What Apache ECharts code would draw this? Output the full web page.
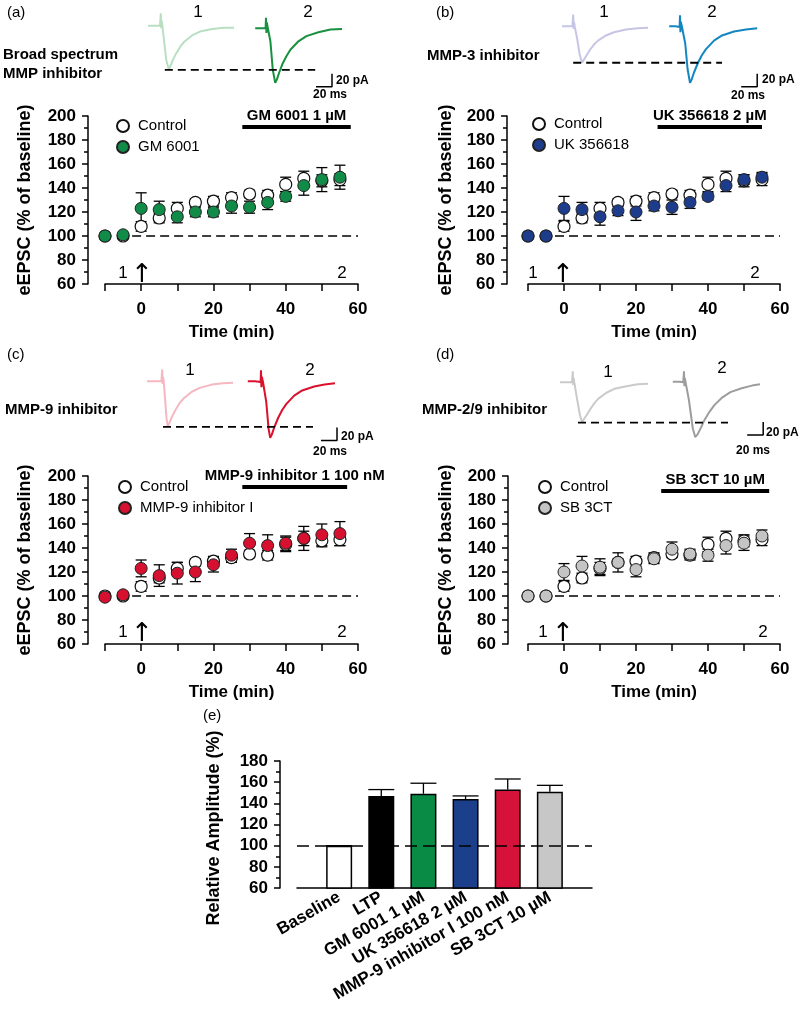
<!DOCTYPE html>
<html><head><meta charset="utf-8">
<script src="https://cdn.jsdelivr.net/npm/echarts@6/dist/echarts.min.js"></script>
<style>html,body{margin:0;padding:0;background:#fff}#c{width:800px;height:1013px}</style>
</head><body><div id="c"></div>
<script>
// ---------- data ----------
const timePoints = [-10,-5,0,5,10,15,20,25,30,35,40,45,50,55];
const controlMean = [100,100,108,115,123,128,129,132,135,134,143,148,146,147];
const controlErr  = [1,1,4,4,5,3,4,4,3,4,6,6,5,5];
const gmMean   = [100,101,123,122,116,120,120,125,124,128,133,142,147,149];
const gmErr    = [1,1,13,7,5,4,4,6,5,6,4,8,10,10];
const ukMean   = [100,100,123,122,116,121,120,125,124,128,133,142,147,149];
const ukErr    = [1,1,10,6,7,4,7,4,6,5,3,5,4,4];
const mmp9Mean = [99,101,123,117,119,120,126,134,144,142,144,148,151,152];
const mmp9Err  = [2,2,7,9,9,8,6,5,8,9,6,10,9,10];
const sbMean   = [100,100,120,125,124,128,122,131,139,135,134,142,144,150];
const sbErr    = [1,1,7,8,7,8,6,4,6,4,5,7,6,5];

const treatNames = ['GM 6001','UK 356618','MMP-9 inhibitor I','SB 3CT'];
const drugLabels = ['GM 6001 1 µM','UK 356618 2 µM','MMP-9 inhibitor 1 100 nM','SB 3CT 10 µM'];
const drugStart = [28,26,28,27];
const drugEnd   = [58,55,57,57];
const drugLevel = [191,191,191,188];
const panelTitles = [['Broad spectrum','MMP inhibitor'],['MMP-3 inhibitor'],['MMP-9 inhibitor'],['MMP-2/9 inhibitor']];
const panelLetters = ['(a)','(b)','(c)','(d)'];

// EPSC traces [ms, pA]
const traceA1 = [[0,2],[8,2],[15,2],[16,21],[16.5,-2],[17,10],[18,1],[20,-20],[23,-52],[26,-65],[28,-60],[31,-51],[35,-41],[40,-31],[45,-23],[55,-13],[65,-7],[80,-3],[95,-1],[107.5,-1]];
const traceA2 = [[134,-2],[142,-2],[147,-2],[147.5,14],[148,-9],[148.5,7],[150,-3],[153,-22],[156,-66],[159,-86],[161,-81],[164,-70],[168,-57],[173,-45],[178,-35],[188,-22],[198,-14],[213,-8],[228,-4],[242.5,-3]];
const traceB1 = [[0,1],[8,1],[13,1],[14,19],[14.5,-3],[15,8],[16,0],[19,-18],[22,-42],[25,-55],[27,-52],[30,-45],[35,-35],[40,-27],[45,-21],[55,-13],[65,-8],[80,-4],[95,-2],[107.5,-1]];
const traceB2 = [[134,1],[142,1],[147,0],[147.5,18],[148,-8],[148.5,8],[150,0],[154,-25],[157,-65],[160,-86],[162,-81],[165,-70],[170,-55],[175,-43],[180,-34],[190,-21],[200,-13],[215,-7],[230,-4],[244,-2]];
const traceC1 = [[0,1],[10,1],[18,1],[19,19],[19.5,-3],[20,8],[21,0],[23,-33],[24.5,-57],[26,-68],[28,-63],[31,-54],[36,-42],[41,-32],[46,-25],[56,-15],[66,-9],[81,-4],[95,-2],[107.5,-1]];
const traceC2 = [[126,1],[135,1],[142,0],[142.5,18],[143,-8],[143.5,8],[145,0],[149,-30],[152,-72],[154,-86],[156,-81],[159,-70],[164,-55],[169,-43],[174,-34],[184,-21],[194,-13],[209,-7],[222,-4],[235,-2]];
const traceD1 = [[0,1],[9,1],[15,1],[16,18],[16.5,-3],[17,8],[18,0],[21,-22],[25,-50],[27.5,-60],[30,-57],[33,-50],[38,-40],[43,-31],[48,-24],[58,-15],[68,-9],[83,-5],[97,-2],[110,-1]];
const traceD2 = [[141,2],[150,2],[154,1],[155,18],[155.5,-5],[156,8],[157,1],[161,-25],[166,-70],[169,-83],[172,-79],[176,-69],[181,-56],[187,-44],[193,-34],[203,-22],[213,-14],[227,-8],[240,-4],[250,-2]];
// reference dashed line at trace-1 peak [fromMs, toMs, pA]; scale bar corner [ms, pA]
const traceDash = [[21,209,-66],[14,200,-55],[20,207.5,-69],[22.5,210,-61]];
const scaleCorner = [[230,-92],[244,-92],[237.5,-90],[254,-80]];

const summaryCategories = ['Baseline','LTP','GM 6001 1 µM','UK 356618 2 µM','MMP-9 inhibitor I 100 nM','SB 3CT 10 µM'];
const summaryMean = [100,147,149,144,153,151];
const summaryErr  = [0,6,10,3,10,6];

// ---------- layout / style ----------
const F = "'Liberation Sans', Arial, sans-serif";
const treatColors = ['#118c48','#1d3d8c','#d8102f','#c4c4c4'];
const traceColors = [['#b9dfc2','#17903f'],['#c7c5e6','#1386c0'],['#f6b7c1','#d9112d'],['#cacaca','#9d9d9d']];
const barColors = ['#ffffff','#000000','#0a8b45','#1c3f8b','#d7123a','#c7c7c7'];
const treatData = [[gmMean,gmErr],[ukMean,ukErr],[mmp9Mean,mmp9Err],[sbMean,sbErr]];
const traceData = [[traceA1,traceA2],[traceB1,traceB2],[traceC1,traceC2],[traceD1,traceD2]];

const layout = [
  {gl:105, gt:116, gw:253, yOff:17, lgL:111, lgT:113, tl:148, tt:10.75, ylx:25, ax1:123, ax2:342, axArrow:142, axY:273,
   letter:[7,13], title:[3,55], n1:[198,12], n2:[308,12], pA:[336,81], ms:[330,95]},
  {gl:528, gt:116, gw:252, yOff:21, lgL:527, lgT:111, tl:562, tt:10.75, ylx:446, ax1:533, ax2:755, axArrow:563, axY:273,
   letter:[436,13], title:[427,56], n1:[604,12], n2:[712,12], pA:[762,80], ms:[748,96]},
  {gl:105, gt:476, gw:253, yOff:17, lgL:113, lgT:474, tl:147, tt:365.75, ylx:25, ax1:123, ax2:342, axArrow:142, axY:632,
   letter:[7,355], title:[5,410], n1:[190,370], n2:[310,370], pA:[341,437], ms:[330,452]},
  {gl:528, gt:476, gw:252, yOff:20, lgL:533, lgT:474, tl:560, tt:366.75, ylx:446, ax1:543, ax2:763, axArrow:563, axY:632,
   letter:[436,355], title:[422,410], n1:[608,372], n2:[722,368], pA:[766,433], ms:[753,451]}
];

function errRender(capW, upOnly) {
  return function (params, api) {
    const x = api.value(0), m = api.value(1), e = api.value(2);
    const top = api.coord([x, m + e]);
    const bot = api.coord([x, upOnly ? m : m - e]);
    const hw = capW / 2;
    const style = {stroke:'#000', lineWidth:1.3, fill:null};
    const ch = [
      {type:'line', shape:{x1:top[0],y1:top[1],x2:bot[0],y2:bot[1]}, style},
      {type:'line', shape:{x1:top[0]-hw,y1:top[1],x2:top[0]+hw,y2:top[1]}, style}
    ];
    if (!upOnly) ch.push({type:'line', shape:{x1:bot[0]-hw,y1:bot[1],x2:bot[0]+hw,y2:bot[1]}, style});
    return {type:'group', children: ch};
  };
}

const grid = [], xAxis = [], yAxis = [], series = [], legend = [], graphic = [];
const axisLineStyle = {color:'#000', width:1.5};
const boldLabel = {color:'#000', fontSize:17, fontWeight:'bold', fontFamily:F};

function txt(x, y, text, opt) {
  opt = opt || {};
  graphic.push({type:'text', x, y, rotation: opt.rot || 0, silent:true, z:100,
    style:{text, fill:'#000', fontSize: opt.size || 15, fontWeight: opt.bold ? 'bold' : 'normal',
      fontFamily: opt.family || F, align: opt.align || 'left', verticalAlign:'middle'}});
}

layout.forEach((L, p) => {
  const gMain = grid.length;
  grid.push({left:L.gl, top:L.gt, width:L.gw, height:168});
  xAxis.push({gridIndex:gMain, type:'value', min:-10, max:60, interval:10,
    axisLine:{onZero:false, lineStyle:axisLineStyle}, axisTick:{length:7, lineStyle:{width:1.5, color:'#000'}},
    axisLabel:Object.assign({margin:17, showMaxLabel:true, formatter:v => (v >= 0 && v % 20 === 0) ? String(v) : ''}, boldLabel),
    splitLine:{show:false},
    name:'Time (min)', nameLocation:'middle', nameGap:40,
    nameTextStyle:{color:'#000', fontSize:17, fontWeight:'bold', fontFamily:F}});
  yAxis.push({gridIndex:gMain, type:'value', min:60, max:200, interval:20, offset:L.yOff,
    axisLine:{show:true, onZero:false, lineStyle:axisLineStyle}, axisTick:{show:true, length:6, lineStyle:{width:1.5, color:'#000'}},
    minorTick:{show:true, splitNumber:2, length:4, lineStyle:{width:1.5, color:'#000'}},
    axisLabel:Object.assign({margin:12}, boldLabel), splitLine:{show:false}, minorSplitLine:{show:false}});

  const [tm, te] = treatData[p];
  series.push({type:'custom', name:'ctrlErr'+p, xAxisIndex:gMain, yAxisIndex:gMain,
    renderItem:errRender(11,false), data:timePoints.map((t,i)=>[t, controlMean[i], controlErr[i]])});
  series.push({type:'scatter', name:'Control', xAxisIndex:gMain, yAxisIndex:gMain, symbolSize:12,
    itemStyle:{color:'#ffffff', borderColor:'#111', borderWidth:1.2, opacity:1},
    data:timePoints.map((t,i)=>[t, controlMean[i]])});
  series.push({type:'custom', name:'treatErr'+p, xAxisIndex:gMain, yAxisIndex:gMain,
    renderItem:errRender(11,false), data:timePoints.map((t,i)=>[t, tm[i], te[i]])});
  series.push({type:'scatter', name:treatNames[p], xAxisIndex:gMain, yAxisIndex:gMain, symbolSize:12,
    itemStyle:{color:treatColors[p], borderColor:'#222', borderWidth:1, opacity:1},
    data:timePoints.map((t,i)=>[t, tm[i]]),
    markLine:{silent:true, symbol:['none','none'], animation:false,
      data:[
        [{coord:[-2.5,100], lineStyle:{type:[9,5], color:'#000', width:1.6}, label:{show:false}}, {coord:[60,100]}],
        [{coord:[drugStart[p], drugLevel[p]], lineStyle:{type:'solid', color:'#000', width:4},
          label:{show:true, position:'insideMiddleTop', distance:3, formatter:drugLabels[p], color:'#000',
            fontSize:15, fontWeight:'bold', fontFamily:F}},
         {coord:[drugEnd[p], drugLevel[p]]}]
      ]}});
  legend.push({data:['Control', treatNames[p]], left:L.lgL, top:L.lgT, orient:'vertical',
    itemWidth:20, itemHeight:12, itemGap:5, selectedMode:false,
    textStyle:{color:'#000', fontSize:15, fontFamily:F, lineHeight:16}});

  // trace inset grid
  const gT = grid.length;
  grid.push({left:L.tl, top:L.tt, width:212, height:81.25});
  xAxis.push({gridIndex:gT, type:'value', min:0, max:265, show:false});
  yAxis.push({gridIndex:gT, type:'value', min:-100, max:25, show:false});
  const [t1, t2] = traceData[p];
  [t1, t2].forEach((tr, k) => series.push({type:'line', name:'trace'+p+k, xAxisIndex:gT, yAxisIndex:gT,
    symbol:'none', clip:false, lineStyle:{color:traceColors[p][k], width:2}, data:tr, z:3}));
  const d = traceDash[p];
  series.push({type:'line', name:'dash'+p, xAxisIndex:gT, yAxisIndex:gT, symbol:'none', clip:false,
    lineStyle:{color:'#000', width:1.8, type:[8,5]}, data:[[d[0],d[2]],[d[1],d[2]]], z:4});
  const s = scaleCorner[p];
  series.push({type:'line', name:'scale'+p, xAxisIndex:gT, yAxisIndex:gT, symbol:'none', clip:false,
    lineStyle:{color:'#000', width:1.5}, data:[[s[0]-20,s[1]],[s[0],s[1]],[s[0],s[1]+20]], z:4});

  // annotations
  txt(L.letter[0], L.letter[1], panelLetters[p], {size:15});
  panelTitles[p].forEach((t, i) => txt(L.title[0], L.title[1] + i*19, t, {bold:true, size:15}));
  txt(L.n1[0], L.n1[1], '1', {size:17, align:'center'});
  txt(L.n2[0], L.n2[1], '2', {size:17, align:'center'});
  txt(L.pA[0], L.pA[1], '20 pA', {bold:true, size:12});
  txt(L.ms[0], L.ms[1], '20 ms', {bold:true, size:12, align:'center'});
  txt(L.ax1, L.axY, '1', {size:17, align:'center'});
  txt(L.ax2, L.axY, '2', {size:17, align:'center'});
  txt(L.axArrow, L.axY + 2, '↑', {size:26, align:'center', family:'DejaVu Sans'});
  txt(L.ylx, L.gt + 84, 'eEPSC (% of baseline)', {bold:true, size:18, align:'center', rot:Math.PI/2});
});

// ---------- panel (e) ----------
const gE = grid.length;
grid.push({left:297, top:761, width:295, height:127});
xAxis.push({gridIndex:gE, type:'value', min:0, max:7, interval:1,
  axisLine:{onZero:false, lineStyle:axisLineStyle}, axisTick:{show:false}, splitLine:{show:false},
  axisLabel:Object.assign({}, boldLabel, {rotate:30, margin:8, showMinLabel:true, showMaxLabel:true,
    formatter:v => summaryCategories[v-1] || ''})});
yAxis.push({gridIndex:gE, type:'value', min:60, max:180, interval:20, offset:17,
  axisLine:{show:true, onZero:false, lineStyle:axisLineStyle}, axisTick:{show:true, length:6, lineStyle:{width:1.5, color:'#000'}},
  minorTick:{show:true, splitNumber:2, length:4, lineStyle:{width:1.5, color:'#000'}},
  axisLabel:Object.assign({margin:12}, boldLabel), splitLine:{show:false}, minorSplitLine:{show:false}});
series.push({type:'custom', name:'sumErr', xAxisIndex:gE, yAxisIndex:gE, renderItem:errRender(26,true),
  data:summaryMean.map((v,i)=>[i+1, v, summaryErr[i]]), z:1});
series.push({type:'bar', name:'summary', xAxisIndex:gE, yAxisIndex:gE, barWidth:26,
  itemStyle:{borderColor:'#000', borderWidth:1.5},
  data:summaryMean.map((v,i)=>({value:[i+1, v], itemStyle:{color:barColors[i]}})), z:2,
  markLine:{silent:true, symbol:['none','none'], animation:false, z:5,
    data:[[{coord:[0,100], lineStyle:{type:[12,6], color:'#000', width:1.6}, label:{show:false}}, {coord:[7,100]}]]}});
txt(203, 716, '(e)', {size:15});
txt(214, 828, 'Relative Amplitude (%)', {bold:true, size:18, align:'center', rot:Math.PI/2});

const chart = echarts.init(document.getElementById('c'), null, {renderer:'canvas'});
chart.setOption({animation:false, backgroundColor:'#fff', grid, xAxis, yAxis, series, legend, graphic});
</script></body></html>
